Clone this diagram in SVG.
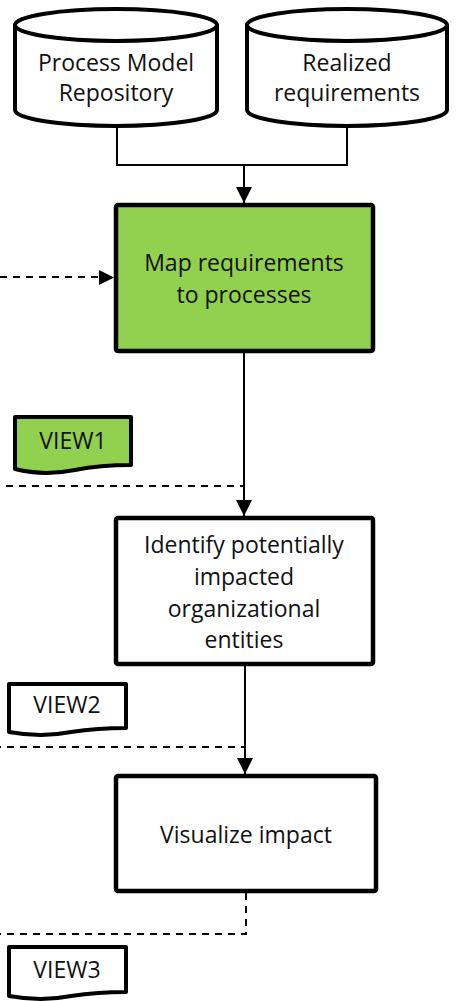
<svg xmlns="http://www.w3.org/2000/svg" width="463" height="1001" viewBox="0 0 463 1001">
  <style>
    .lbl { font-family: "Open Sans", "Liberation Sans", sans-serif; font-size: 23px; fill: #111; text-anchor: middle; }
    .box { stroke: #000; stroke-width: 4.5; }
    .db { fill: #fff; stroke: #000; stroke-width: 4; }
    .doc { stroke: #000; stroke-width: 4; stroke-linejoin: round; }
    .flow { fill: none; stroke: #000; stroke-width: 2; }
    .dash { fill: none; stroke: #000; stroke-width: 2; stroke-dasharray: 7 6; }
  </style>
  <defs>
    <marker id="arrow" viewBox="0 0 16 16" refX="16" refY="8" markerWidth="16" markerHeight="16" markerUnits="userSpaceOnUse" orient="auto">
      <path d="M0,0 L16,8 L0,16 Z" fill="#000"/>
    </marker>
  </defs>

  <!-- connectors -->
  <g id="connectors">
    <path class="flow" d="M117,126 V165 H347 V126"/>
    <path class="flow" d="M244,165 V203" stroke-width="3" marker-end="url(#arrow)"/>
    <path class="dash" d="M0,277 H100"/>
    <path d="M99,270 L114,277.5 L99,285 Z" fill="#000"/>
    <path class="flow" d="M244,353 V516" marker-end="url(#arrow)"/>
    <path class="dash" d="M244,353 V486 H0"/>
    <path class="flow" d="M245,666 V774" marker-end="url(#arrow)"/>
    <path class="dash" d="M245,666 V747 H0"/>
    <path class="dash" d="M246,893 V934 H0"/>
  </g>

  <!-- data stores -->
  <g id="process-model-repository">
    <path class="db" d="M15,25 V110 A101,16 0 0 0 217,110 V25"/>
    <ellipse class="db" cx="116" cy="25" rx="101" ry="16"/>
    <text class="lbl" x="116" y="71">Process Model</text>
    <text class="lbl" x="116" y="101">Repository</text>
  </g>
  <g id="realized-requirements">
    <path class="db" d="M247,25 V110 A100,16 0 0 0 447,110 V25"/>
    <ellipse class="db" cx="347" cy="25" rx="100" ry="16"/>
    <text class="lbl" x="347" y="71">Realized</text>
    <text class="lbl" x="347" y="101">requirements</text>
  </g>

  <!-- process steps -->
  <g id="map-requirements">
    <rect class="box" x="116" y="205" width="257" height="146" rx="2" fill="#92D050"/>
    <text class="lbl" x="244" y="271">Map requirements</text>
    <text class="lbl" x="244" y="303">to processes</text>
  </g>
  <g id="identify-entities">
    <rect class="box" x="116" y="518" width="257" height="146" rx="2" fill="#fff"/>
    <text class="lbl" x="244" y="553">Identify potentially</text>
    <text class="lbl" x="244" y="585">impacted</text>
    <text class="lbl" x="244" y="617">organizational</text>
    <text class="lbl" x="244" y="648">entities</text>
  </g>
  <g id="visualize-impact">
    <rect class="box" x="116" y="776" width="260" height="115" rx="2" fill="#fff"/>
    <text class="lbl" x="246" y="843">Visualize impact</text>
  </g>

  <!-- output documents -->
  <g id="view1">
    <path class="doc" fill="#92D050" d="M15,417 H131 V465 C110,465 95,466 75,470 C55,474 35,474 15,469 Z"/>
    <text class="lbl" x="73" y="449">VIEW1</text>
  </g>
  <g id="view2">
    <path class="doc" fill="#fff" d="M9,684 H126 V728 C106,728 91,729 71,732 C51,736 31,736 9,732 Z"/>
    <text class="lbl" x="67" y="713">VIEW2</text>
  </g>
  <g id="view3">
    <path class="doc" fill="#fff" d="M9,947 H126 V992 C106,992 91,993 71,996 C51,1000 31,1000 9,996 Z"/>
    <text class="lbl" x="67" y="978">VIEW3</text>
  </g>
</svg>
